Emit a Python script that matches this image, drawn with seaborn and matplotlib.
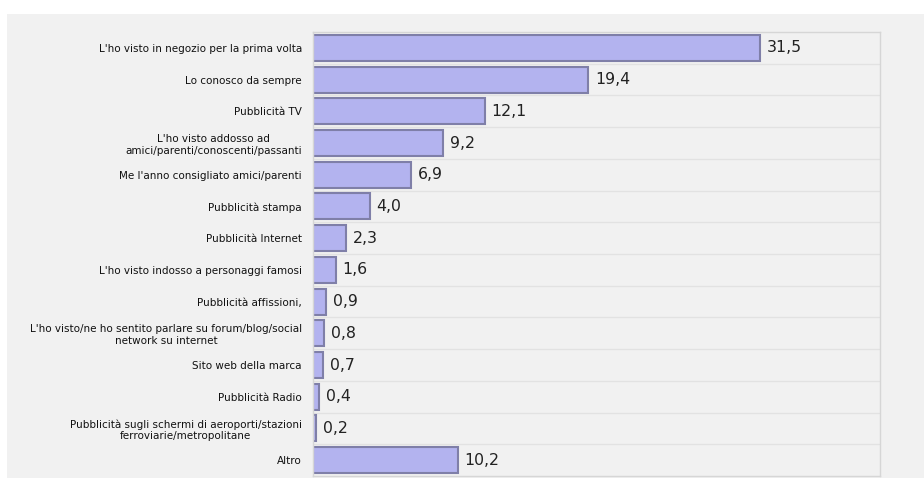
"""Horizontal bar chart: how respondents first came to know the brand (%)."""

import matplotlib
matplotlib.use("Agg")
import matplotlib.pyplot as plt
import seaborn as sns
import pandas as pd
from matplotlib.patches import Rectangle

categories = [
    "L'ho visto in negozio per la prima volta",
    "Lo conosco da sempre",
    "Pubblicità TV",
    "L'ho visto addosso ad\namici/parenti/conoscenti/passanti",
    "Me l'anno consigliato amici/parenti",
    "Pubblicità stampa",
    "Pubblicità Internet",
    "L'ho visto indosso a personaggi famosi",
    "Pubblicità affissioni,",
    "L'ho visto/ne ho sentito parlare su forum/blog/social\nnetwork su internet",
    "Sito web della marca",
    "Pubblicità Radio",
    "Pubblicità sugli schermi di aeroporti/stazioni\nferroviarie/metropolitane",
    "Altro",
]
values = [31.5, 19.4, 12.1, 9.2, 6.9, 4.0, 2.3, 1.6, 0.9, 0.8, 0.7, 0.4, 0.2, 10.2]
value_labels = [f"{v:.1f}".replace(".", ",") for v in values]

df = pd.DataFrame({"categoria": categories, "valore": values})

sns.set_style("white")
fig = plt.figure(figsize=(9.24, 4.79), dpi=100)
fig.patch.set_facecolor("white")
# grey panel behind the chart
fig.patches.append(Rectangle((7 / 924, 0.002), 1, 1 - 14 / 479 - 0.002,
                             transform=fig.transFigure, facecolor="#f1f1f1",
                             edgecolor="none", zorder=-10))

ax = fig.add_axes([313 / 924, 3 / 479, 567 / 924, 444 / 479])
ax.set_facecolor("#f1f1f1")

sns.barplot(data=df, y="categoria", x="valore", orient="h", ax=ax,
            color="#b3b3ef", edgecolor="#7f7fa8", linewidth=1.5,
            width=0.82, saturation=1)

ax.bar_label(ax.containers[0], labels=value_labels, padding=5,
             fontsize=11.3, color="#222222")

ax.set_xlim(0, 40)
ax.set_ylim(len(categories) - 0.5, -0.5)
ax.set_xlabel("")
ax.set_ylabel("")
ax.set_xticks([])

# row separators
for i in range(len(categories) - 1):
    ax.axhline(i + 0.5, color="#e2e2e2", linewidth=1, zorder=0)

for spine in ax.spines.values():
    spine.set_color("#d6d6d6")
    spine.set_linewidth(1)

ax.tick_params(axis="y", length=0, pad=8)
for lbl in ax.get_yticklabels():
    lbl.set_fontsize(7.5)
    lbl.set_multialignment("center")
    lbl.set_color("#111111")

fig.savefig("out.png", dpi=100, facecolor=fig.get_facecolor())
